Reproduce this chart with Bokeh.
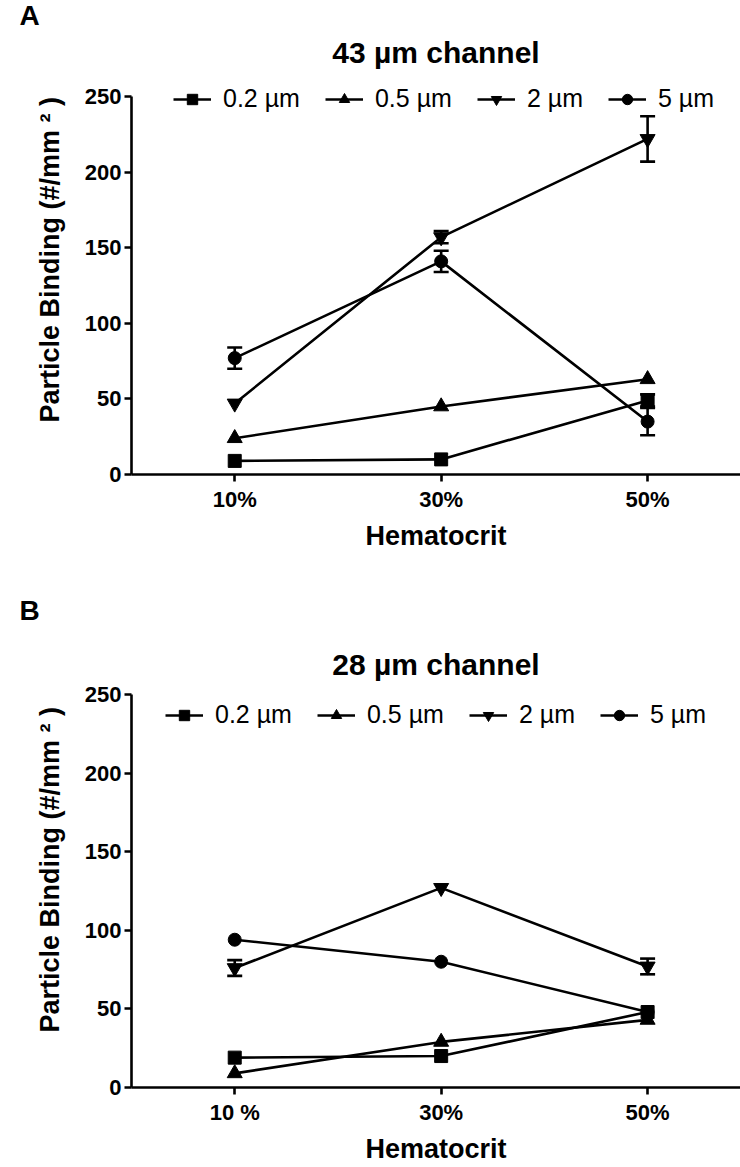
from bokeh.plotting import figure
from bokeh.models import (ColumnDataSource, Whisker, Legend, LegendItem, Title,
                          FixedTicker, Range1d, TeeHead)
from bokeh.layouts import column
from bokeh.embed import file_html
from bokeh.resources import INLINE

# ---------------- data ----------------
hematocrit = [10, 30, 50]
xtick_labels_a = ["10%", "30%", "50%"]
xtick_labels_b = ["10 %", "30%", "50%"]
yticks = [0, 50, 100, 150, 200, 250]
series_names = ["0.2 \u00b5m", "0.5 \u00b5m", "2 \u00b5m", "5 \u00b5m"]
series_markers = ["square", "triangle", "inverted_triangle", "circle"]

# Panel A: 43 um channel
a_02 = [9, 10, 49]
a_05 = [24, 45, 63]
a_2 = [47, 157, 222]
a_5 = [77, 141, 35]
a_02_err = [1, 1, 4]
a_05_err = [1, 1, 1]
a_2_err = [1, 4, 15]
a_5_err = [7, 7, 9]

# Panel B: 28 um channel
b_02 = [19, 20, 48]
b_05 = [9, 29, 43]
b_2 = [76, 127, 77]
b_5 = [94, 80, 48]
b_02_err = [2, 2, 2]
b_05_err = [1, 1, 2]
b_2_err = [5, 2, 5]
b_5_err = [2, 2, 2]

FONT = "Liberation Sans"
BLACK = "black"
LW = 2.6


def panel(letter, title, values, errors, xtick_labels, height, y_top, top, bottom,
          legend_loc, title_standoff, letter_standoff, ylab_offset):
    p = figure(width=740, height=height, x_range=Range1d(0, 59), y_range=Range1d(0, y_top),
               output_backend="svg", toolbar_location=None,
               min_border_left=131, min_border_right=0,
               min_border_top=top, min_border_bottom=bottom)
    p.outline_line_color = None
    p.grid.visible = False
    p.background_fill_color = "white"
    p.border_fill_color = "white"

    xa = p.xaxis[0]
    xa.ticker = FixedTicker(ticks=hematocrit)
    xa.major_label_overrides = dict(zip(hematocrit, xtick_labels))
    ya = p.yaxis[0]
    ya.ticker = FixedTicker(ticks=yticks)
    ya.bounds = (0, 250)
    for ax in (xa, ya):
        ax.axis_line_width = LW
        ax.axis_line_color = BLACK
        ax.major_tick_line_width = LW
        ax.major_tick_line_color = BLACK
        ax.major_tick_out = 7
        ax.major_tick_in = 0
        ax.minor_tick_line_color = None
        ax.major_label_text_font = FONT
        ax.major_label_text_font_style = "bold"
        ax.major_label_text_font_size = "22px"
        ax.major_label_text_color = BLACK
    ya.major_label_standoff = 3
    xa.major_label_standoff = 5
    xa.axis_label = "Hematocrit"
    xa.axis_label_text_font = FONT
    xa.axis_label_text_font_style = "bold"
    xa.axis_label_text_font_size = "27px"
    xa.axis_label_text_color = BLACK
    xa.axis_label_standoff = 6

    items = []
    for name, marker, vals, errs in zip(series_names, series_markers, values, errors):
        src = ColumnDataSource(dict(x=hematocrit, y=vals))
        keep = [i for i, e in enumerate(errs) if e >= 4]
        wsrc = ColumnDataSource(dict(
            x=[hematocrit[i] for i in keep],
            upper=[vals[i] + errs[i] for i in keep],
            lower=[vals[i] - errs[i] for i in keep]))
        w = Whisker(base="x", upper="upper", lower="lower", source=wsrc,
                    line_width=LW, line_color=BLACK,
                    upper_head=TeeHead(size=15, line_width=LW, line_color=BLACK),
                    lower_head=TeeHead(size=15, line_width=LW, line_color=BLACK))
        p.add_layout(w)
        lr = p.line("x", "y", source=src, line_width=LW, line_color=BLACK)
        size = 15 if "triangle" in marker else 13
        sr = p.scatter("x", "y", source=src, marker=marker, size=size,
                       fill_color=BLACK, line_color=BLACK)
        items.append(LegendItem(label=name, renderers=[lr, sr]))

    legend = Legend(items=items, orientation="horizontal", location=legend_loc,
                    glyph_width=38, glyph_height=26, label_height=26,
                    label_standoff=12, spacing=25, padding=0, margin=0,
                    border_line_color=None, background_fill_alpha=0,
                    label_text_font=FONT, label_text_font_size="25px",
                    label_text_color=BLACK)
    p.add_layout(legend)

    # chart title (closest to frame), then panel letter further out
    p.add_layout(Title(text=title, align="center", standoff=title_standoff,
                       text_font=FONT, text_font_style="bold", text_font_size="30px",
                       text_color=BLACK), "above")
    p.add_layout(Title(text=letter, align="left", offset=-112, standoff=letter_standoff,
                       text_font=FONT, text_font_style="bold", text_font_size="28px",
                       text_color=BLACK), "above")
    p.add_layout(Title(text="Particle Binding (#/mm \u00b2 )", align="left",
                       offset=ylab_offset, standoff=33,
                       text_font=FONT, text_font_style="bold", text_font_size="27px",
                       text_color=BLACK), "left")
    return p


pa = panel("A", "43 \u00b5m channel", [a_02, a_05, a_2, a_5],
           [a_02_err, a_05_err, a_2_err, a_5_err], xtick_labels_a,
           height=583, y_top=258, top=84, bottom=109, legend_loc=(42, 361),
           title_standoff=32, letter_standoff=-27, ylab_offset=52)
pb = panel("B", "28 \u00b5m channel", [b_02, b_05, b_2, b_5],
           [b_02_err, b_05_err, b_2_err, b_5_err], xtick_labels_b,
           height=584, y_top=251.9, top=106, bottom=80, legend_loc=(34, 358),
           title_standoff=22, letter_standoff=18, ylab_offset=55)

layout = column(pa, pb, spacing=0)
open("out.html", "w").write(file_html(layout, INLINE))
